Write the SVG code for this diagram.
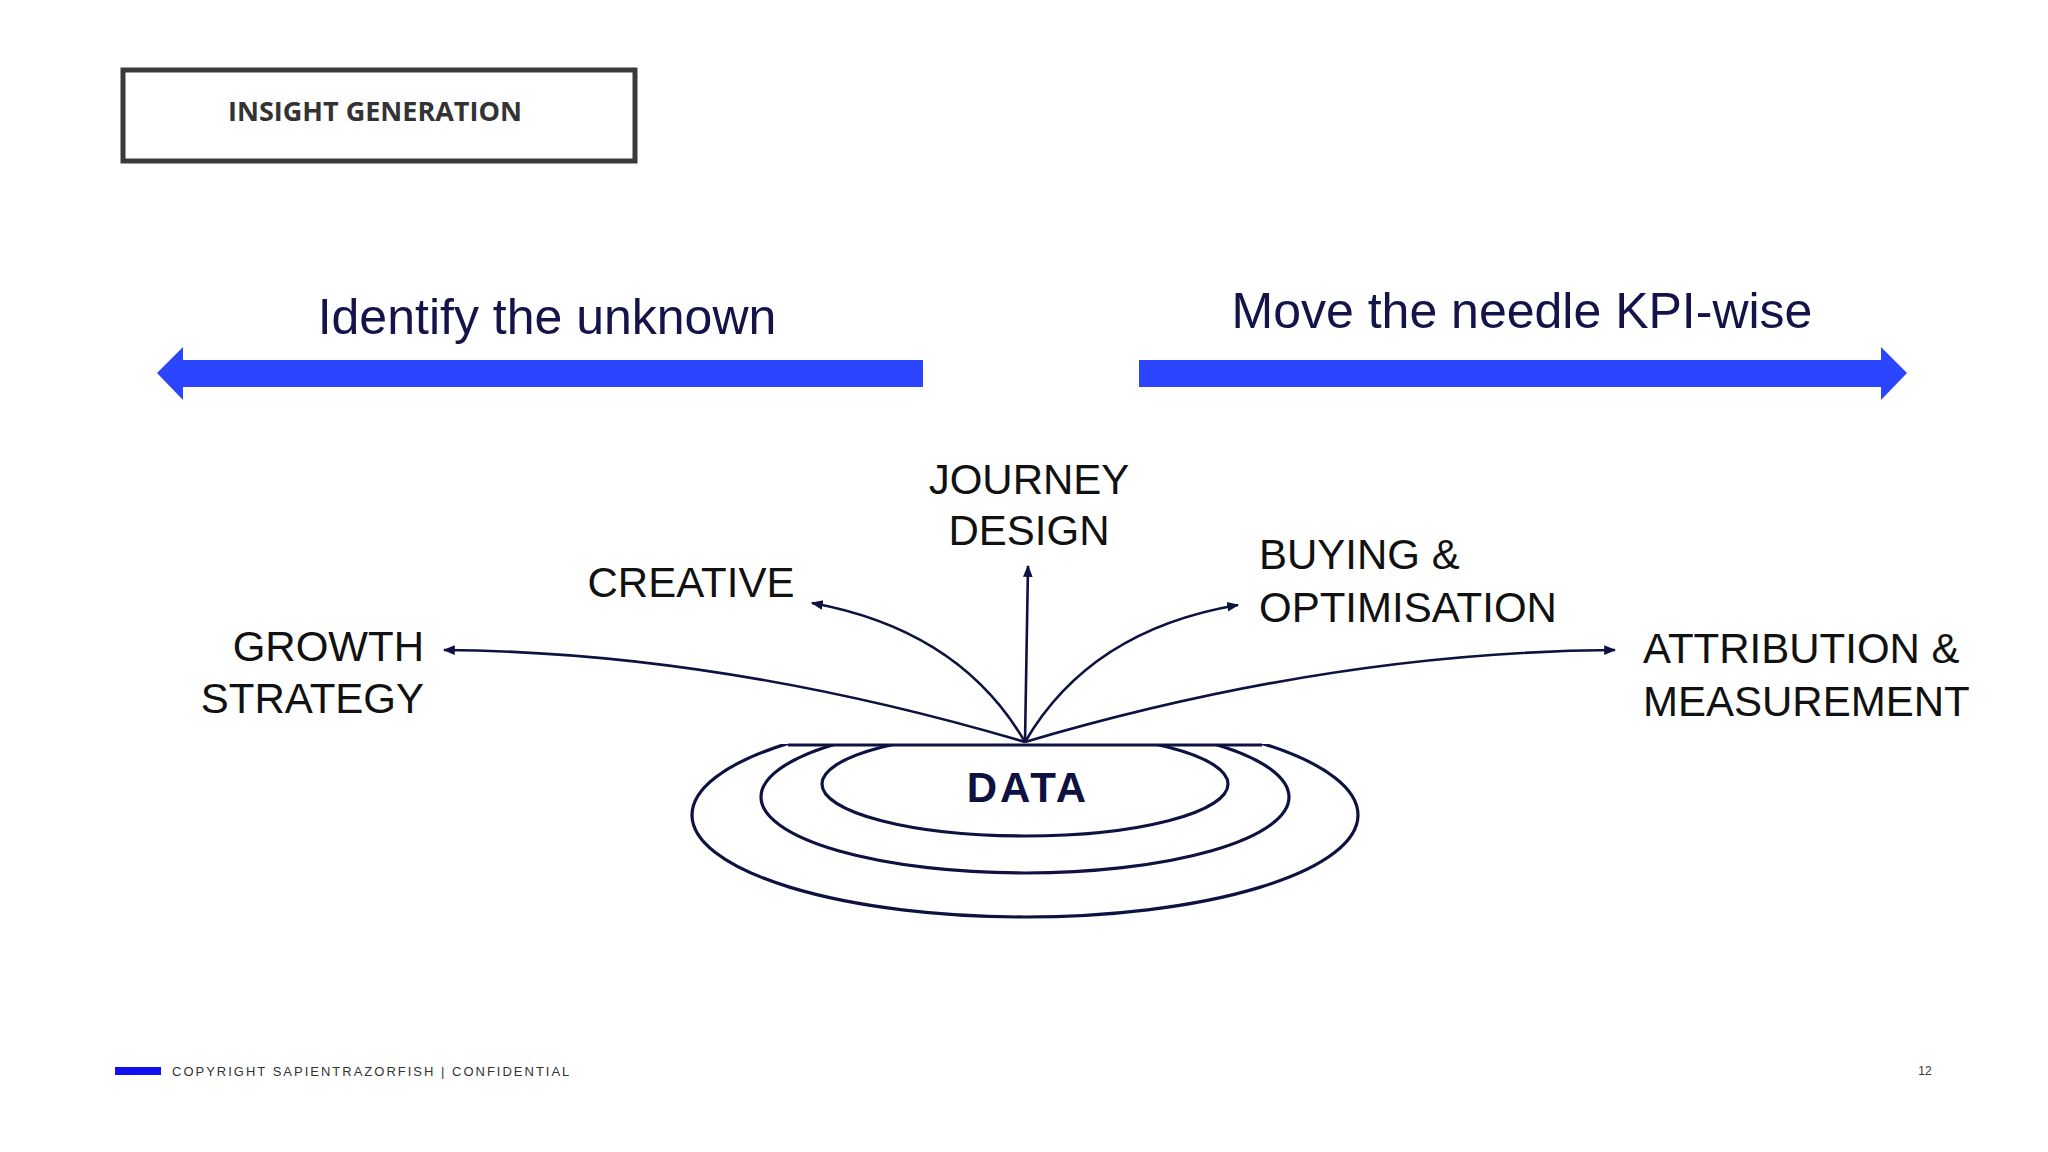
<svg xmlns="http://www.w3.org/2000/svg" width="2048" height="1152" viewBox="0 0 2048 1152">
<style>
.lbl{font-family:"Liberation Sans",Arial,sans-serif;font-size:42px;fill:#111}
.head{font-family:"Liberation Sans",Arial,sans-serif;font-size:50px;fill:#14144a}
.con{fill:none;stroke:#0d1240;stroke-width:2.6}
.ring{fill:none;stroke:#0d1240;stroke-width:3.2}
</style>
<defs>
<marker id="ah" viewBox="0 0 10 10" refX="9" refY="5" markerWidth="5" markerHeight="5" orient="auto-start-reverse" markerUnits="userSpaceOnUse"><path d="M0,0 L10,5 L0,10 z" fill="#0d1240"/></marker>
<marker id="ah2" viewBox="0 0 10 10" refX="9" refY="5" markerWidth="12" markerHeight="12" orient="auto" markerUnits="userSpaceOnUse"><path d="M0,1 L10,5 L0,9 z" fill="#0d1240"/></marker>
<clipPath id="clip"><rect x="0" y="744" width="2048" height="400"/></clipPath>
</defs>
<rect width="2048" height="1152" fill="#fff"/>
<g id="title"><rect x="123" y="70" width="512" height="91" fill="#fff" stroke="#3a3a3a" stroke-width="5"/>
<text x="375" y="121" text-anchor="middle" font-family="Open Sans,sans-serif" font-weight="bold" font-size="27" fill="#333">INSIGHT GENERATION</text></g>
<g id="left-arrow"><text class="head" x="547" y="334" text-anchor="middle">Identify the unknown</text>
<polygon points="157,373 183,347 183,360 923,360 923,387 183,387 183,400" fill="#2b45ff"/></g>
<g id="right-arrow"><text class="head" x="1522" y="328" text-anchor="middle">Move the needle KPI-wise</text>
<polygon points="1907,373 1881,347 1881,360 1139,360 1139,387 1881,387 1881,400" fill="#2b45ff"/></g>
<g id="connectors">
<path class="con" marker-end="url(#ah2)" d="M1025,742 Q720,652 444,650"/>
<path class="con" marker-end="url(#ah2)" d="M1025,742 Q960,630 812,603"/>
<path class="con" marker-end="url(#ah2)" d="M1025,742 L1028,566"/>
<path class="con" marker-end="url(#ah2)" d="M1025,742 Q1090,630 1238,605"/>
<path class="con" marker-end="url(#ah2)" d="M1025,742 Q1330,652 1615,650"/>
</g>
<g id="data">
<g clip-path="url(#clip)">
<ellipse class="ring" cx="1025" cy="815" rx="333" ry="102"/>
<ellipse class="ring" cx="1025" cy="797" rx="264" ry="76"/>
<ellipse class="ring" cx="1025" cy="784" rx="203" ry="52"/>
</g>
<line x1="788" y1="745" x2="1262" y2="745" stroke="#0d1240" stroke-width="3.2"/>
<text x="1028" y="802" text-anchor="middle" font-family="Liberation Sans,Arial,sans-serif" font-weight="bold" font-size="42" letter-spacing="3" fill="#0d1240">DATA</text>
</g>
<g id="journey"><text class="lbl" x="1029" y="494" text-anchor="middle">JOURNEY</text><text class="lbl" x="1029" y="545" text-anchor="middle">DESIGN</text></g>
<g id="creative"><text class="lbl" x="691" y="597" text-anchor="middle">CREATIVE</text></g>
<g id="growth"><text class="lbl" x="424" y="661" text-anchor="end">GROWTH</text><text class="lbl" x="424" y="713" text-anchor="end">STRATEGY</text></g>
<g id="buying"><text class="lbl" x="1259" y="569">BUYING &amp;</text><text class="lbl" x="1259" y="622">OPTIMISATION</text></g>
<g id="attribution"><text class="lbl" x="1643" y="663">ATTRIBUTION &amp;</text><text class="lbl" x="1643" y="716">MEASUREMENT</text></g>
<g id="footer"><rect x="115" y="1067" width="46" height="8" fill="#1010f0"/>
<text x="172" y="1076" font-family="Liberation Sans,Arial,sans-serif" font-size="13" letter-spacing="2" fill="#333">COPYRIGHT SAPIENTRAZORFISH | CONFIDENTIAL</text>
<text x="1925" y="1075" text-anchor="middle" font-family="Liberation Sans,Arial,sans-serif" font-size="12" fill="#333">12</text></g>
</svg>
